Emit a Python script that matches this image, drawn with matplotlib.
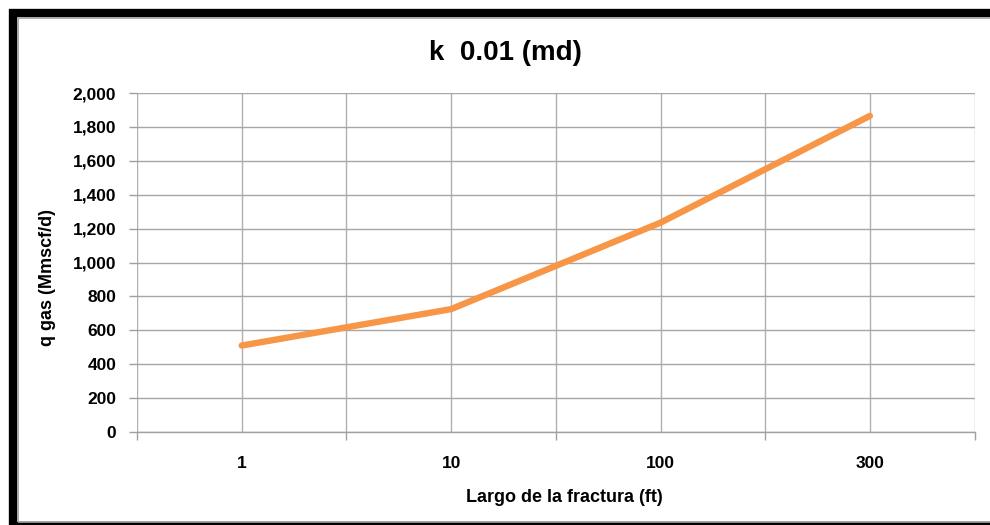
import matplotlib.pyplot as plt
from matplotlib.patches import Rectangle
from matplotlib.ticker import FixedLocator, FuncFormatter

categories = ['1', '10', '100', '300']
q_gas = [510, 725, 1235, 1865]
y_ticks = list(range(0, 2001, 200))

plt.rcParams['font.family'] = ['Liberation Sans', 'DejaVu Sans']
plt.rcParams['font.weight'] = 'bold'

W, H = 990, 525
fig = plt.figure(figsize=(9.9, 5.25), dpi=100)
ax = fig.add_axes([137 / W, 93 / H, 837.6 / W, 339 / H])

x = list(range(len(categories)))
ax.plot(x, q_gas, color='#F79646', linewidth=4.6, solid_capstyle='round', zorder=3)

ax.set_xlim(-0.5, len(categories) - 0.5)
ax.set_ylim(0, 2000)

# gridlines at category centres and at the boundaries
ax.set_xticks(x)
ax.set_xticklabels(categories)
ax.xaxis.set_minor_locator(FixedLocator([i - 0.5 for i in range(len(categories) + 1)]))
ax.set_yticks(y_ticks)
ax.yaxis.set_major_formatter(FuncFormatter(lambda v, p: f'{int(v):,}'))

ax.grid(True, which='both', axis='x', color='#b0b0b0', linewidth=1)
ax.grid(True, which='major', axis='y', color='#a6a6a6', linewidth=1)
ax.set_axisbelow(True)

ax.tick_params(axis='x', which='major', length=0, pad=17, labelsize=12.5)
ax.tick_params(axis='x', which='minor', length=6, color='#a0a0a0', width=1)
ax.tick_params(axis='y', length=6, color='#a0a0a0', width=1, pad=9, labelsize=12.5)

for side in ['top', 'right', 'left']:
    ax.spines[side].set_visible(False)
ax.spines['bottom'].set_color('#a0a0a0')
ax.spines['bottom'].set_linewidth(1)

fig.text(505 / W, 1 - 53 / H, 'k  0.01 (md)', fontsize=20, fontweight='bold',
         ha='center', va='center')
fig.text(564 / W, 1 - 497 / H, 'Largo de la fractura (ft)', fontsize=13, fontweight='bold',
         ha='center', va='center')
fig.text(48 / W, 1 - 278 / H, 'q gas (Mmscf/d)', fontsize=13, fontweight='bold',
         ha='center', va='center', rotation=90)

# black frame with thin grey inner edge (right side cut off)
fig.patches.append(Rectangle((13 / W, -1 / H), 990 / W, 513 / H, transform=fig.transFigure,
                             fill=False, edgecolor='black', linewidth=6))
fig.patches.append(Rectangle((17.5 / W, 3.5 / H), 990 / W, 504 / H, transform=fig.transFigure,
                             fill=False, edgecolor='#a0a0a0', linewidth=1.2))

fig.savefig('out.png', dpi=100)
